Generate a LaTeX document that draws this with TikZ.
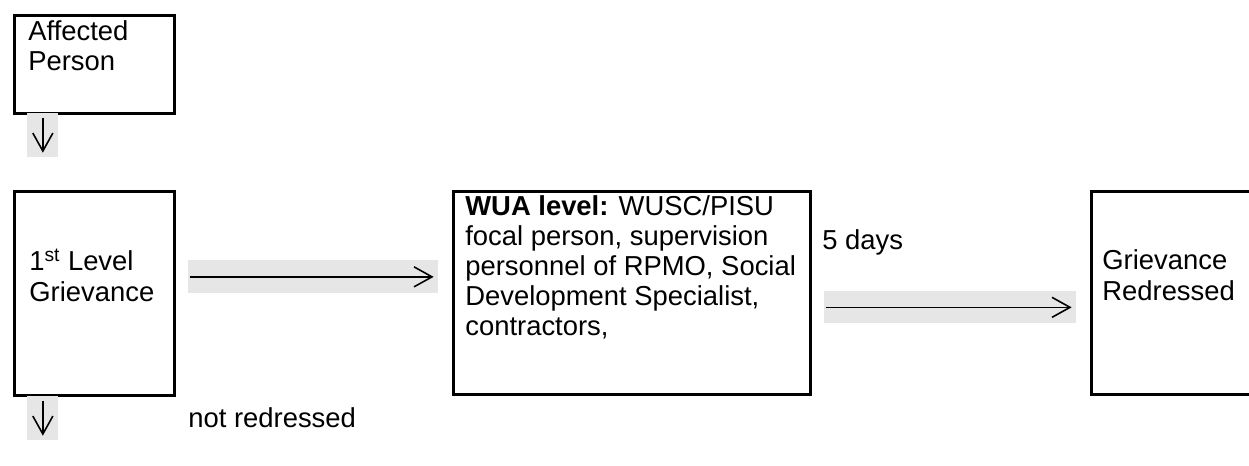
\documentclass[tikz,border=0pt]{standalone}
\usepackage{fontspec}
\setmainfont{Liberation Sans}
\usetikzlibrary{arrows.meta,calc}
\definecolor{hlgray}{RGB}{230,230,230}
\tikzset{
  box/.style={draw,line width=1.5pt,anchor=north west,inner sep=0pt},
  txt/.style={anchor=base west,inner sep=0pt,align=left,font=\fontsize{15.6}{17.1}\selectfont},
  hl/.style={fill=hlgray,anchor=north west,inner sep=0pt},
  arr/.style={line width=0.9pt,-{Straight Barb[length=3.6mm,width=4mm]}}
}
\begin{document}
\begin{tikzpicture}[x=0.02cm,y=-0.02cm]
  \useasboundingbox (0,0) rectangle (1249,466);
  \clip (0,0) rectangle (1249,466);
  \node[box,minimum width=3.2cm,minimum height=1.96cm] (affected) at (13,14) {};
  \node[box,minimum width=3.2cm,minimum height=4.08cm] (first) at (13,190) {};
  \node[box,minimum width=7.14cm,minimum height=4.06cm] (wua) at (452,190) {};
  \node[box,minimum width=4cm,minimum height=4.06cm] (redressed) at (1090,190) {};
  \node[txt] (affectedtxt) at (28,71) {Affected\\Person};
  \node[txt] (firsttxt) at (29,301) {1\textsuperscript{st} Level\\Grievance};
  \node[txt] (wuatxt) at (465,336) {\textbf{WUA level:} WUSC/PISU\\focal person, supervision\\personnel of RPMO, Social\\Development Specialist,\\contractors,};
  \node[txt] (redressedtxt) at (1102,300) {Grievance\\Redressed};
  \node[txt] (days) at (822,250) {5 days};
  \node[txt] (notredressed) at (188,427) {not redressed};
  \node[hl,minimum width=0.62cm,minimum height=0.88cm] (hlA) at (27,113) {};
  \node[hl,minimum width=0.62cm,minimum height=0.88cm] (hlB) at (27,396) {};
  \node[hl,minimum width=5cm,minimum height=0.66cm] (hlC) at (188,260) {};
  \node[hl,minimum width=5.04cm,minimum height=0.64cm] (hlD) at (824,291) {};
  \draw[arr] ($(hlA.north)+(0,5)$) -- ($(hlA.south)+(0,-5)$);
  \draw[arr] ($(hlB.north)+(0,5)$) -- ($(hlB.south)+(0,-5)$);
  \draw[arr] ($(hlC.west)+(2,0)$) -- ($(hlC.east)+(-5,0)$);
  \draw[arr] ($(hlD.west)+(2,0)$) -- ($(hlD.east)+(-5,0)$);
\end{tikzpicture}
\end{document}
